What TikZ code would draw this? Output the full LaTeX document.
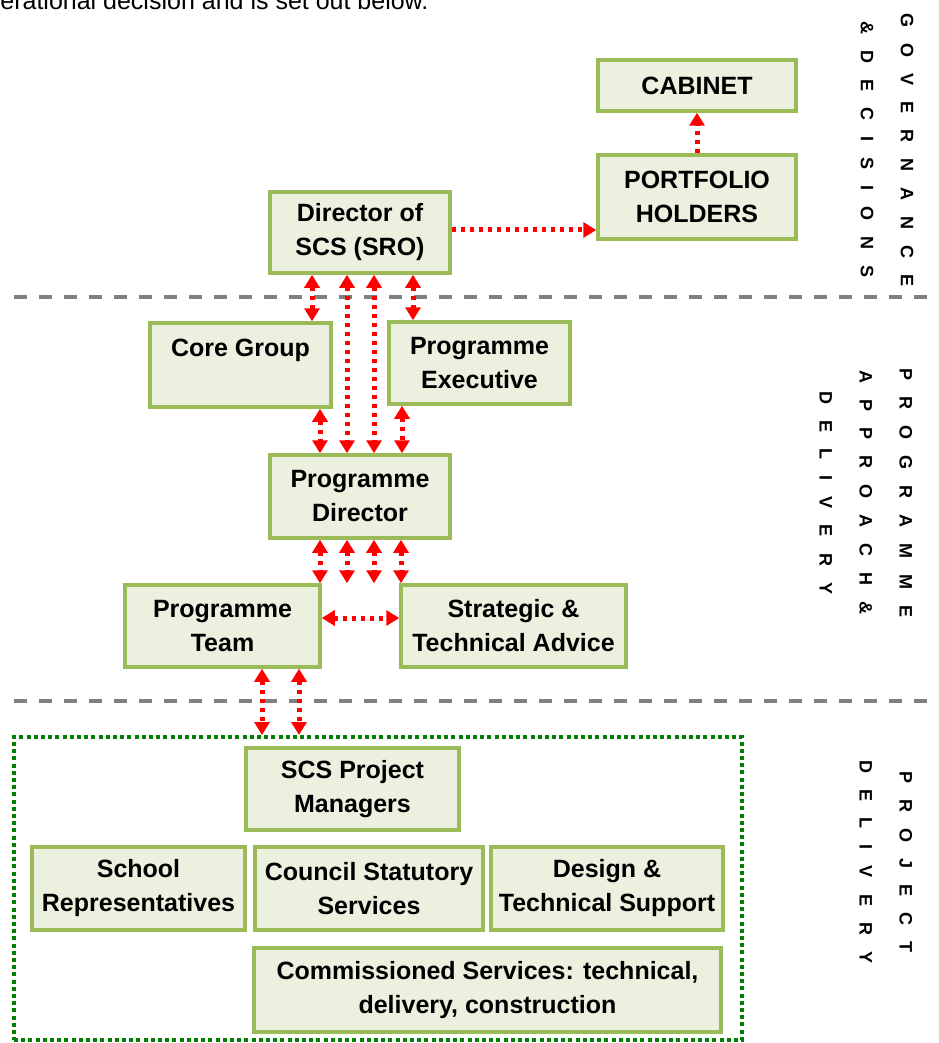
\documentclass[tikz,border=0pt]{standalone}
\usepackage{fontspec}
\setmainfont{Liberation Sans}
\usetikzlibrary{arrows.meta}
\definecolor{boxfill}{RGB}{235,241,222}
\definecolor{boxline}{RGB}{155,187,89}
\definecolor{linkred}{RGB}{255,0,0}
\definecolor{sepgray}{RGB}{128,128,128}
\definecolor{framegreen}{RGB}{0,128,0}
\newcommand{\boxfont}{\fontsize{12.5pt}{17pt}\selectfont\bfseries}
\newcommand{\sidefont}{\fontsize{9pt}{20pt}\selectfont\bfseries\spaceskip=8pt\relax}

\begin{document}
\begin{tikzpicture}[x=0.5pt, y=-0.5pt, >={Triangle[width=7.5pt,length=6.5pt]},
    box/.style={rectangle, draw=boxline, line width=1.75pt, fill=boxfill, align=center, font=\boxfont, inner sep=0pt},
    link/.style={linkred, line width=2.5pt, dash pattern=on 2.25pt off 2.25pt},
    side/.style={font=\sidefont, align=center, rotate=-90, inner sep=0pt},
    sep/.style={sepgray, line width=2pt, dash pattern=on 6.5pt off 6pt},
    frame/.style={draw=framegreen, line width=2pt, dash pattern=on 2pt off 1.6pt}]
    \useasboundingbox (0,0) rectangle (938,1043);

    % Cut-off line of text above the chart
    \node[anchor=base west, inner sep=0pt, font=\fontsize{12.5pt}{15pt}\selectfont] (intro) at (0,9.5) {erational decision and is set out below.};

    % Band separators
    \draw[sep] (14,297) -- (938,297);
    \draw[sep] (14,701) -- (938,701);

    % Governance & decisions
    \node[box, minimum width=99pt, minimum height=25.5pt] (cab) at (697,85.5) {CABINET};
    \node[box, minimum width=99pt, minimum height=42pt] (port) at (697,197) {PORTFOLIO\\HOLDERS};
    \node[box, minimum width=90pt, minimum height=40.5pt] (dir) at (360,232.5) {Director of\\SCS (SRO)};

    % Programme approach & delivery
    \node[box, minimum width=90.5pt, minimum height=42pt] (core) at (240.5,365) {Core Group\\\phantom{G}};
    \node[box, minimum width=90.5pt, minimum height=41pt] (exec) at (479.5,363) {Programme\\Executive};
    \node[box, minimum width=90pt, minimum height=41.5pt] (pd) at (360,496.5) {Programme\\Director};
    \node[box, minimum width=97.5pt, minimum height=41pt] (team) at (222.5,626) {Programme\\Team};
    \node[box, minimum width=112.5pt, minimum height=41pt] (sta) at (513.5,626) {Strategic \&\\Technical Advice};

    % Project delivery
    \node[frame, minimum width=364pt, minimum height=151.5pt] (proj) at (378,888.5) {};
    \node[box, minimum width=106.5pt, minimum height=41pt] (spm) at (352.5,789) {SCS Project\\Managers};
    \node[box, minimum width=106.5pt, minimum height=41.5pt] (school) at (138.5,888.5) {School\\Representatives};
    \node[box, minimum width=114pt, minimum height=41.5pt] (council) at (369,888.5) {Council Statutory\\Services};
    \node[box, minimum width=116pt, minimum height=41.5pt] (design) at (607,888.5) {Design \&\\Technical Support};
    \node[box, minimum width=233.5pt, minimum height=42pt] (comm) at (487.5,990) {Commissioned Services: technical,\\delivery, construction};

    % Side labels
    \node[side] (govlbl) at (887,150) {G O V E R N A N C E\\\& D E C I S I O N S};
    \node[side] (prglbl) at (866,493) {P R O G R A M M E\\A P P R O A C H \&\\D E L I V E R Y};
    \node[side] (prjlbl) at (886,862) {P R O J E C T\\D E L I V E R Y};

    % Links
    \draw[link, ->] (0,230 -| dir.east) -- (0,230 -| port.west);
    \draw[link, ->] (port.north) -- (cab.south);
    \draw[link, <->] (0,618 -| team.east) -- (0,618 -| sta.west);
    \foreach \xx/\a/\b in {312/dir/core, 413/dir/exec, 347/dir/pd, 374/dir/pd, 320/core/pd, 402/exec/pd,
                           320/pd/team, 347/pd/team, 374/pd/team, 401/pd/team, 262/team/proj, 299/team/proj} {
        \draw[link, <->] (\xx,0 |- \a.south) -- (\xx,0 |- \b.north);
    }

\end{tikzpicture}
\end{document}
